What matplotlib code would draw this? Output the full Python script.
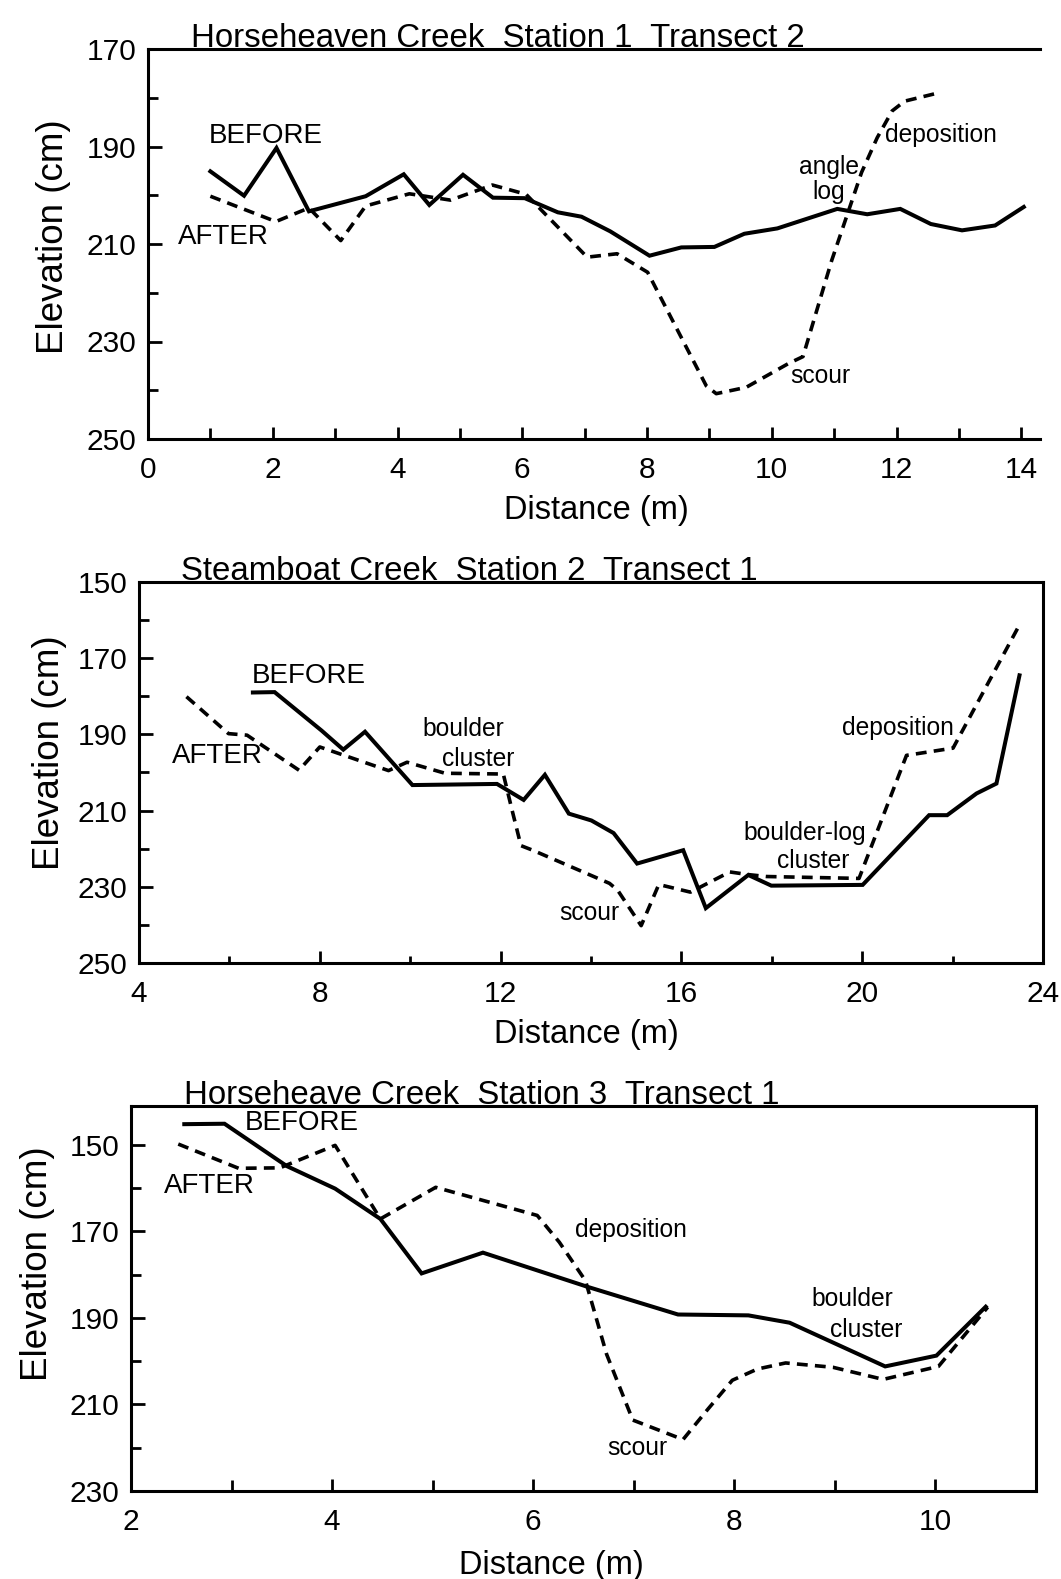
import matplotlib
matplotlib.use("Agg")
import matplotlib.pyplot as plt
from matplotlib.ticker import MultipleLocator, FixedLocator

plt.rcParams['font.family'] = ['Liberation Sans', 'DejaVu Sans']

# ---------------- data ----------------
# Panel 1: Horseheaven Creek Station 1 Transect 2
p1_before_x = [1.0, 1.54, 2.06, 2.58, 3.49, 4.1, 4.51, 5.05, 5.53, 6.04, 6.57, 6.95, 7.41,
               8.04, 8.55, 9.08, 9.56, 10.09, 11.05, 11.53, 12.06, 12.55, 13.05, 13.58, 14.04]
p1_before_y = [195.1, 200.1, 190.3, 203.3, 200.2, 195.7, 202.0, 195.8, 200.5, 200.6, 203.5, 204.4, 207.4,
               212.4, 210.7, 210.6, 207.9, 206.8, 202.8, 203.9, 202.8, 205.9, 207.2, 206.2, 202.4]
p1_after_x = [1.0, 2.05, 2.58, 3.09, 3.49, 4.19, 4.85, 5.52, 6.06, 7.04, 7.52, 8.01, 8.95, 9.11,
              9.59, 10.27, 10.5, 10.96, 11.44, 11.69, 11.93, 12.13, 12.64]
p1_after_y = [200.2, 205.4, 202.6, 209.3, 202.2, 199.7, 201.0, 197.9, 199.8, 212.7, 212.0, 215.8, 239.1, 240.7,
              239.4, 234.5, 233.1, 213.4, 195.3, 188.2, 182.7, 180.7, 179.1]

# Panel 2: Steamboat Creek Station 2 Transect 1
p2_before_x = [6.52, 7.0, 8.04, 8.52, 9.0, 10.05, 11.92, 12.51, 12.98, 13.51, 14.01, 14.5, 15.02,
               16.04, 16.54, 17.48, 17.99, 20.01, 21.48, 21.88, 22.53, 22.97, 23.48]
p2_before_y = [179.0, 178.9, 189.0, 194.0, 189.3, 203.3, 203.0, 207.2, 200.6, 210.8, 212.6, 215.9, 223.9,
               220.4, 235.6, 226.9, 229.7, 229.5, 211.2, 211.2, 205.5, 202.9, 174.5]
p2_after_x = [5.05, 5.98, 6.39, 7.54, 8.0, 9.52, 9.93, 10.77, 12.06, 12.25, 12.45, 12.71, 14.41, 14.59,
              15.11, 15.5, 16.2, 17.07, 17.48, 17.88, 19.93, 20.98, 22.01, 23.5]
p2_after_y = [180.1, 189.8, 190.2, 199.4, 193.3, 199.5, 197.3, 200.2, 200.4, 209.7, 219.2, 220.4, 229.1, 230.9,
              240.2, 229.4, 231.4, 226.1, 226.8, 227.3, 227.8, 195.5, 193.6, 160.8]

# Panel 3: Horseheave Creek Station 3 Transect 1
p3_before_x = [2.53, 2.93, 3.55, 4.03, 4.48, 4.89, 5.5, 6.54, 7.44, 8.14, 8.55, 9.5, 10.01, 10.5]
p3_before_y = [145.2, 145.1, 154.9, 160.1, 167.1, 179.7, 174.9, 182.8, 189.2, 189.4, 191.1, 201.2, 198.7, 187.4]
p3_after_x = [2.47, 3.07, 3.48, 4.03, 4.48, 5.03, 6.04, 6.26, 6.52, 6.73, 6.99, 7.49, 7.74, 7.98,
              8.23, 8.51, 8.98, 9.48, 10.03, 10.52]
p3_after_y = [149.8, 155.4, 155.3, 150.1, 167.1, 159.8, 166.3, 172.5, 181.4, 198.4, 213.6, 218.1, 211.0, 204.4,
              201.8, 200.4, 201.4, 204.2, 201.2, 187.5]

titles = ["Horseheaven Creek  Station 1  Transect 2",
          "Steamboat Creek  Station 2  Transect 1",
          "Horseheave Creek  Station 3  Transect 1"]
xlabel = "Distance (m)"
ylabel = "Elevation (cm)"

p1_yticks = [170, 190, 210, 230, 250]
p1_yminor = [180, 200, 220, 240]
p2_yticks = [150, 170, 190, 210, 230, 250]
p2_yminor = [160, 180, 200, 220, 240]
p3_yticks = [150, 170, 190, 210, 230]
p3_yminor = [160, 180, 200, 220]

# ---------------- figure ----------------
W, H = 1061, 1579
fig = plt.figure(figsize=(W / 100, H / 100), dpi=100)


def add_ax(l, t, r, b):
    return fig.add_axes([l / W, 1 - b / H, (r - l) / W, (b - t) / H])


SOLID_LW = 2.9
DASH_LW = 2.6
DASH = (0, (3.0, 2.0))
TICK_FS = 21.5
XLAB_FS = 23.5
YLAB_FS = 26.5
TITLE_FS = 23.8
BA_FS = 20
ANN_FS = 17.7


def style(ax, xlim, ylim, xmaj, xmin, yticks, yminor, right_spine=True,
          xpad=12, ypad=8.5, xlen=(9, 8), ylen=(10, 7)):
    ax.set_xlim(*xlim)
    ax.set_ylim(*ylim)
    ax.xaxis.set_major_locator(MultipleLocator(xmaj))
    ax.xaxis.set_minor_locator(MultipleLocator(xmin))
    ax.yaxis.set_major_locator(FixedLocator(yticks))
    ax.yaxis.set_minor_locator(FixedLocator(yminor))
    for s in ax.spines.values():
        s.set_linewidth(2.2)
    if not right_spine:
        ax.spines['right'].set_visible(False)
    ax.tick_params(axis='both', which='both', direction='in', width=2.0, labelsize=TICK_FS)
    ax.tick_params(axis='x', which='major', length=xlen[0], pad=xpad)
    ax.tick_params(axis='x', which='minor', length=xlen[1])
    ax.tick_params(axis='y', which='major', length=ylen[0], pad=ypad)
    ax.tick_params(axis='y', which='minor', length=ylen[1])
    ax.set_xlabel(xlabel, fontsize=XLAB_FS)
    ax.set_ylabel(ylabel, fontsize=YLAB_FS)


def draw(ax, bx, by, axx, ay):
    ax.plot(bx, by, color='black', lw=SOLID_LW, solid_joinstyle='miter', zorder=3)
    ax.plot(axx, ay, color='black', lw=DASH_LW, linestyle=DASH, zorder=3)


def title(ax, x, text, h):
    ax.text(x, 1.0 + 2.0 / h, text, transform=ax.transAxes, fontsize=TITLE_FS,
            ha='left', va='baseline')


# Panel 1
ax1 = add_ax(148, 49, 1040, 439)
draw(ax1, p1_before_x, p1_before_y, p1_after_x, p1_after_y)
style(ax1, (0, 14.3), (250, 170), 2, 1, p1_yticks, p1_yminor, right_spine=False)
title(ax1, 0.048, titles[0], 390)
ax1.text(0.98, 187.9, "BEFORE", fontsize=BA_FS, ha='left', va='center')
ax1.text(0.48, 208.6, "AFTER", fontsize=BA_FS, ha='left', va='center')
ax1.text(10.92, 194.2, "angle", fontsize=ANN_FS, ha='center', va='center')
ax1.text(10.92, 199.3, "log", fontsize=ANN_FS, ha='center', va='center')
ax1.text(11.82, 187.7, "deposition", fontsize=ANN_FS, ha='left', va='center')
ax1.text(10.29, 237.1, "scour", fontsize=ANN_FS, ha='left', va='center')
ax1.xaxis.set_label_coords(0.503, -0.1424)
ax1.yaxis.set_label_coords(-0.0868, 0.52)

# Panel 2
ax2 = add_ax(139, 582, 1043, 963)
draw(ax2, p2_before_x, p2_before_y, p2_after_x, p2_after_y)
style(ax2, (4, 24), (250, 150), 4, 2, p2_yticks, p2_yminor, right_spine=True, xlen=(9, 5))
title(ax2, 0.0464, titles[1], 381)
ax2.text(6.49, 174.7, "BEFORE", fontsize=BA_FS, ha='left', va='center')
ax2.text(4.73, 195.6, "AFTER", fontsize=BA_FS, ha='left', va='center')
ax2.text(11.18, 188.5, "boulder", fontsize=ANN_FS, ha='center', va='center')
ax2.text(11.5, 196.4, "cluster", fontsize=ANN_FS, ha='center', va='center')
ax2.text(13.96, 236.8, "scour", fontsize=ANN_FS, ha='center', va='center')
ax2.text(20.8, 188.4, "deposition", fontsize=ANN_FS, ha='center', va='center')
ax2.text(18.74, 216.0, "boulder-log", fontsize=ANN_FS, ha='center', va='center')
ax2.text(18.92, 223.3, "cluster", fontsize=ANN_FS, ha='center', va='center')
ax2.xaxis.set_label_coords(0.495, -0.148)
ax2.yaxis.set_label_coords(-0.0796, 0.551)

# Panel 3
ax3 = add_ax(131, 1106, 1036, 1491)
draw(ax3, p3_before_x, p3_before_y, p3_after_x, p3_after_y)
style(ax3, (2, 11), (230, 141), 2, 1, p3_yticks, p3_yminor, right_spine=True)
title(ax3, 0.0586, titles[2], 384.5)
ax3.text(3.13, 145.0, "BEFORE", fontsize=BA_FS, ha='left', va='center')
ax3.text(2.33, 159.5, "AFTER", fontsize=BA_FS, ha='left', va='center')
ax3.text(6.42, 169.7, "deposition", fontsize=ANN_FS, ha='left', va='center')
ax3.text(9.17, 185.6, "boulder", fontsize=ANN_FS, ha='center', va='center')
ax3.text(9.31, 192.7, "cluster", fontsize=ANN_FS, ha='center', va='center')
ax3.text(7.04, 220.1, "scour", fontsize=ANN_FS, ha='center', va='center')
ax3.xaxis.set_label_coords(0.465, -0.152)
ax3.yaxis.set_label_coords(-0.084, 0.59)

fig.savefig("out.png", dpi=100)
